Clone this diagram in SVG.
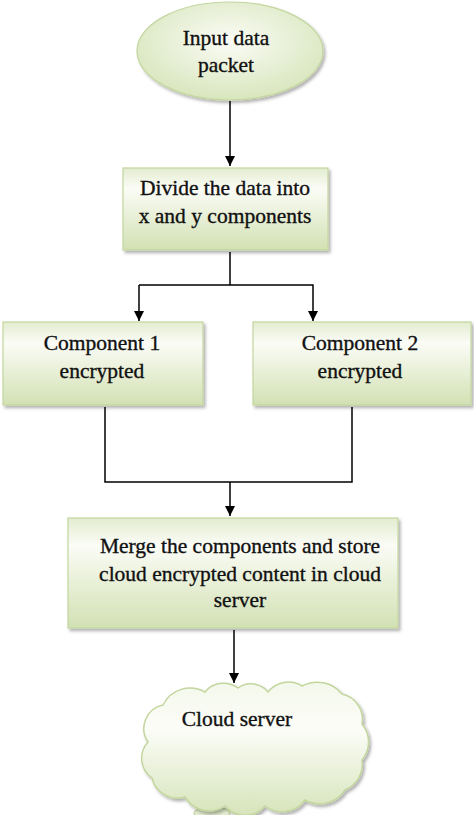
<svg xmlns="http://www.w3.org/2000/svg" width="474" height="815" viewBox="0 0 474 815">
<defs>
<linearGradient id="gBox" x1="0" y1="0" x2="0" y2="1">
<stop offset="0" stop-color="#e3ecd0"/>
<stop offset="0.25" stop-color="#fbfcf6"/>
<stop offset="1" stop-color="#d2e1b3"/>
</linearGradient>
<radialGradient id="gEll" cx="0.5" cy="0.4" r="0.6">
<stop offset="0" stop-color="#fbfcf6"/>
<stop offset="1" stop-color="#d8e6bd"/>
</radialGradient>
<linearGradient id="gCloud" x1="0" y1="0" x2="0" y2="1">
<stop offset="0" stop-color="#f4f8eb"/>
<stop offset="0.35" stop-color="#fcfdf8"/>
<stop offset="1" stop-color="#d6e4ba"/>
</linearGradient>
<filter id="sh" x="-10%" y="-10%" width="125%" height="130%">
<feDropShadow dx="2" dy="2.5" stdDeviation="1.5" flood-color="#000" flood-opacity="0.3"/>
</filter>
<marker id="arr" viewBox="0 0 10 10" refX="10" refY="5" markerWidth="10" markerHeight="10" markerUnits="userSpaceOnUse" orient="auto">
<path d="M0,0 L10,5 L0,10 Z" fill="#000"/>
</marker>
</defs>
<style>
.box{fill:url(#gBox);stroke:#c3d69e;stroke-width:1.2;filter:url(#sh)}
.t{font-family:"Liberation Serif","Times New Roman",serif;font-size:21.5px;fill:#111;stroke:#111;stroke-width:0.35;text-anchor:middle}
.c{fill:none;stroke:#000;stroke-width:1.5}
</style>
<g id="connectors">
<line class="c" x1="230" y1="101" x2="230" y2="166" marker-end="url(#arr)"/>
<polyline class="c" points="230,252 230,285"/>
<polyline class="c" points="139,285 313,285 313,321" marker-end="url(#arr)"/>
<line class="c" x1="139" y1="285" x2="139" y2="321" marker-end="url(#arr)"/>
<polyline class="c" points="105,407 105,482 352,482 352,407"/>
<line class="c" x1="230" y1="482" x2="230" y2="516" marker-end="url(#arr)"/>
<line class="c" x1="234" y1="630" x2="234" y2="683" marker-end="url(#arr)"/>
</g>
<g id="input">
<ellipse cx="230" cy="51" rx="93" ry="49" fill="url(#gEll)" stroke="#c3d69e" stroke-width="1.2" filter="url(#sh)"/>
<text class="t" x="226" y="45">Input data</text>
<text class="t" x="226" y="72">packet</text>
</g>
<g id="divide">
<rect class="box" x="123" y="168" width="205" height="82"/>
<text class="t" x="225" y="195">Divide the data into</text>
<text class="t" x="225" y="223">x and y components</text>
</g>
<g id="comp1">
<rect class="box" x="3" y="322" width="200" height="83"/>
<text class="t" x="102" y="350">Component 1</text>
<text class="t" x="102" y="378">encrypted</text>
</g>
<g id="comp2">
<rect class="box" x="253" y="322" width="218" height="83"/>
<text class="t" x="360" y="350">Component 2</text>
<text class="t" x="360" y="378">encrypted</text>
</g>
<g id="merge">
<rect class="box" x="68" y="518" width="330" height="110"/>
<text class="t" x="240" y="553">Merge the components and store</text>
<text class="t" x="240" y="581">cloud encrypted content in cloud</text>
<text class="t" x="240" y="607">server</text>
</g>
<g id="cloud">
<ellipse cx="212" cy="813" rx="18" ry="6" fill="#e2ecce" stroke="#c3d69e" stroke-width="1.2"/>
<path d="M148,742 A24,24 0 0 1 163,705 A30,30 0 0 1 205,692 A24,24 0 0 1 238,688 A22,22 0 0 1 268,692 A26,26 0 0 1 302,686 A32,32 0 0 1 342,694 A26,26 0 0 1 362,724 A28,28 0 0 1 362,760 A28,28 0 0 1 345,790 A30,30 0 0 1 305,800 A28,28 0 0 1 265,806 A26,26 0 0 1 225,806 A28,28 0 0 1 185,797 A26,26 0 0 1 152,778 A24,24 0 0 1 148,742 Z" fill="url(#gCloud)" stroke="#c3d69e" stroke-width="1.5" filter="url(#sh)"/>
<text class="t" x="237" y="726">Cloud server</text>
</g>
</svg>
